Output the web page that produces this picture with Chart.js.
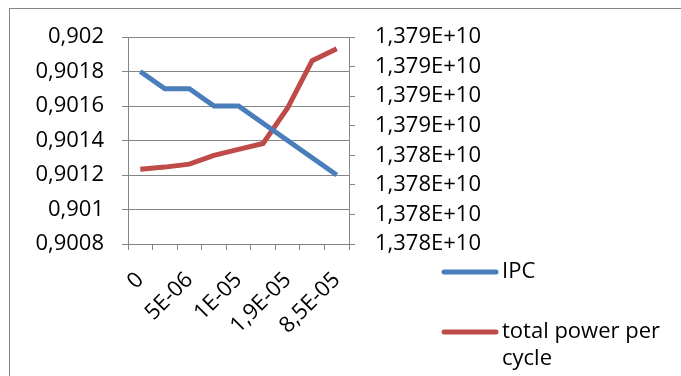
<!DOCTYPE html>
<html>
<head>
<meta charset="utf-8">
<script src="https://cdn.jsdelivr.net/npm/chart.js@4/dist/chart.umd.min.js"></script>
<style>
  html, body { margin: 0; padding: 0; background: #fff; overflow: hidden; }
  #wrap { position: relative; width: 681px; height: 376px; }
  #frame { position: absolute; left: 9px; top: 8px; width: 700px; height: 400px; border: 1px solid #868686; }
  canvas { position: absolute; left: 0; top: 0; }
</style>
</head>
<body>
<div id="wrap">
  <div id="frame"></div>
  <canvas id="chart" width="681" height="376"></canvas>
</div>
<script>
const labels = ["0", "1E-06", "5E-06", "7E-06", "1E-05", "1,5E-05", "1,9E-05", "5E-05", "8,5E-05"];
const ipc = [0.9018, 0.9017, 0.9017, 0.9016, 0.9016, 0.9015, 0.9014, 0.9013, 0.9012];
const power = [13783530000, 13783600000, 13783700000, 13784000000, 13784200000, 13784400000, 13785600000, 13787200000, 13787600000];

const FONT = { family: "'Open Sans', sans-serif", size: 22 };
const GRID = "#868686";

const legendPlugin = {
  id: "sideLegend",
  afterDraw(c) {
    const g = c.ctx;
    const items = [
      { ds: c.data.datasets[0], y: 272, lines: ["IPC"] },
      { ds: c.data.datasets[1], y: 332, lines: ["total power per", "cycle"] }
    ];
    g.save();
    g.font = `${FONT.size}px ${FONT.family}`;
    g.textBaseline = "middle";
    g.fillStyle = "#000";
    items.forEach(it => {
      g.strokeStyle = it.ds.borderColor;
      g.lineWidth = 5;
      g.lineCap = "round";
      g.beginPath();
      g.moveTo(444, it.y);
      g.lineTo(496, it.y);
      g.stroke();
      it.lines.forEach((t, i) => g.fillText(t, 502, it.y + i * 27));
    });
    g.restore();
  }
};

new Chart(document.getElementById("chart"), {
  type: "line",
  data: {
    labels,
    datasets: [
      { label: "IPC", data: ipc, yAxisID: "y", borderColor: "#4A7EBB", borderWidth: 5, pointRadius: 0, tension: 0 },
      { label: "total power per cycle", data: power, yAxisID: "y1", borderColor: "#BE4B48", borderWidth: 5, pointRadius: 0, tension: 0 }
    ]
  },
  options: {
    responsive: false,
    animation: false,
    layout: { padding: { top: 37, left: 0, right: 0, bottom: 0 } },
    plugins: { legend: { display: false }, tooltip: { enabled: false } },
    scales: {
      x: {
        offset: true,
        grid: { drawOnChartArea: false, offset: true, tickLength: 6, color: GRID },
        border: { color: GRID },
        ticks: {
          color: "#000", font: FONT, maxRotation: 45, minRotation: 45, autoSkip: false, padding: 17,
          callback: (v, i) => (i % 2 === 0 ? labels[i] : "")
        },
        afterFit: s => { s.height = 132; }
      },
      y: {
        position: "left",
        min: 0.9008, max: 0.902,
        grid: { color: GRID, tickLength: 6 },
        border: { color: GRID },
        ticks: {
          color: "#000", font: FONT, stepSize: 0.0002, padding: 18,
          callback: v => parseFloat(v.toFixed(4)).toString().replace(".", ",")
        },
        afterFit: s => { s.width = 128; }
      },
      y1: {
        position: "right",
        min: 13781000000, max: 13788000000,
        grid: { drawOnChartArea: false, color: GRID, tickLength: 6 },
        border: { color: GRID },
        ticks: {
          color: "#000", font: FONT, stepSize: 1000000, padding: 20,
          callback: v => (Math.round(v / 1e7) / 1000).toFixed(3).replace(".", ",") + "E+10"
        },
        afterFit: s => { s.width = 332; }
      }
    }
  },
  plugins: [legendPlugin]
});
</script>
</body>
</html>
